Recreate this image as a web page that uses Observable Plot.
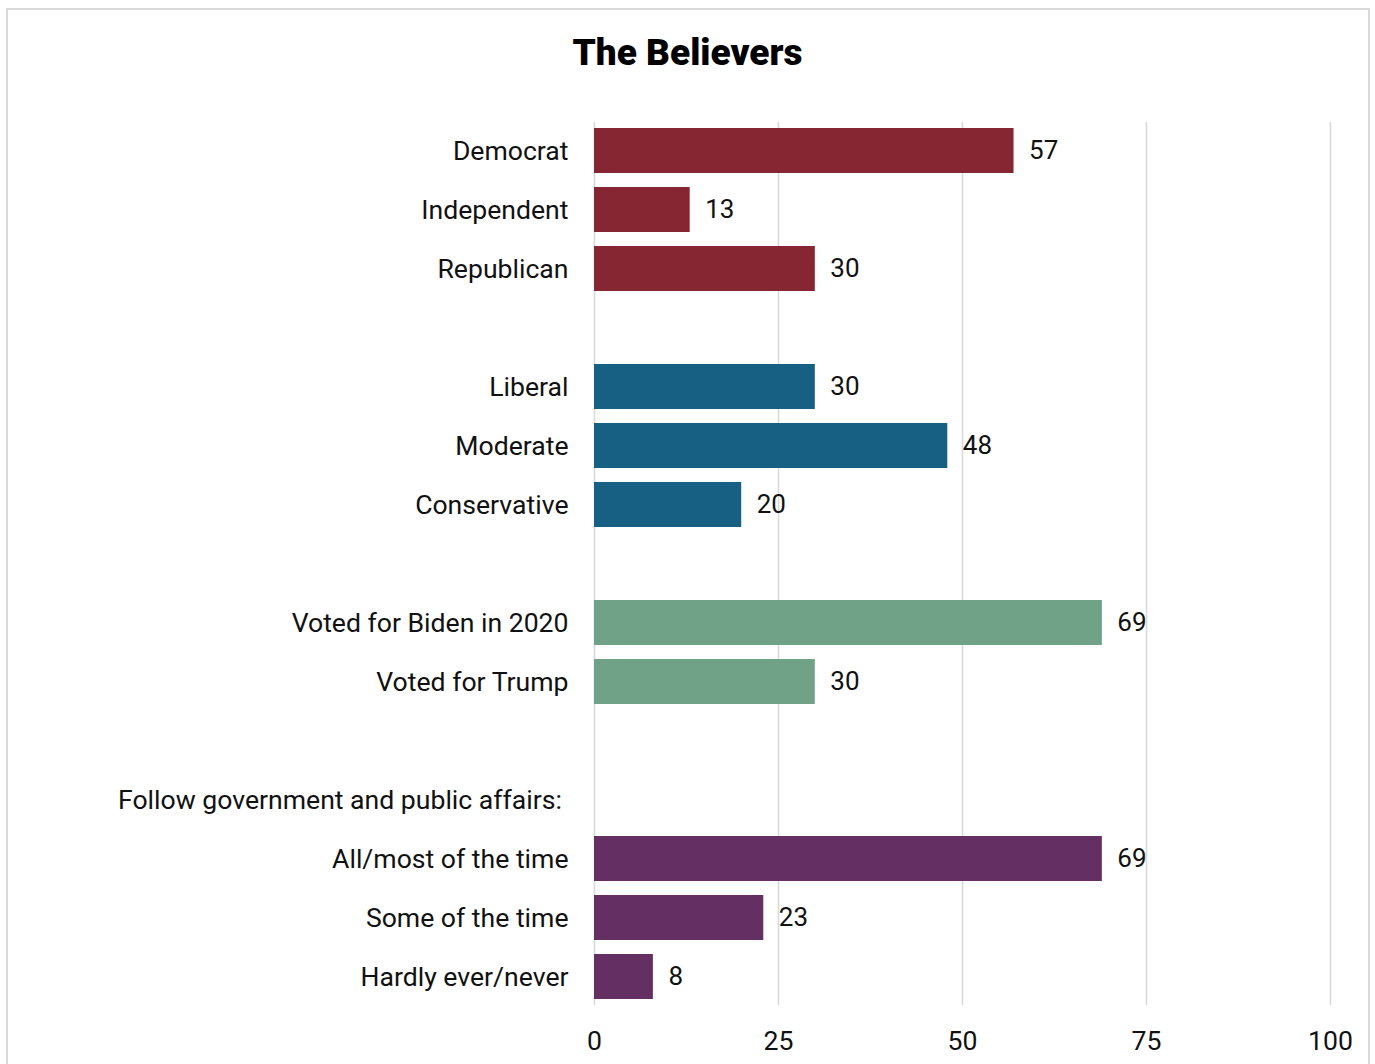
<!DOCTYPE html>
<html>
<head>
<meta charset="utf-8">
<script src="https://cdn.jsdelivr.net/npm/d3@7"></script>
<script src="https://cdn.jsdelivr.net/npm/@observablehq/plot@0.6"></script>
<style>
  body { margin: 0; background: #fff; font-family: Roboto, sans-serif; }
  #frame { position: absolute; left: 6px; top: 8px; width: 1364px; height: 1120px; border: 2px solid #d9d9d9; box-sizing: border-box; }
  #chart { position: absolute; left: 0; top: 0; width: 1375px; }
  .title { height: 100px; box-sizing: border-box; padding-top: 31px; line-height: 38px; text-align: center; font: 900 37px Roboto, sans-serif; color: #000; }
  svg { display: block; }
</style>
</head>
<body>
<div id="frame"></div>
<div id="chart">
  <div class="title">The Believers</div>
</div>
<script>
const categories = ["Democrat", "Independent", "Republican", "Liberal", "Moderate", "Conservative",
  "Voted for Biden in 2020", "Voted for Trump", "All/most of the time", "Some of the time", "Hardly ever/never"];
const values = [57, 13, 30, 30, 48, 20, 69, 30, 69, 23, 8];
const groups = ["Party", "Party", "Party", "Ideology", "Ideology", "Ideology", "Vote", "Vote", "Follow", "Follow", "Follow"];
const groupNames = ["Party", "Ideology", "Vote", "Follow"];
const groupColors = ["#862633", "#176083", "#6fa287", "#642f62"];
const heading = "Follow government and public affairs:\u00a0";
const rows = ["Democrat", "Independent", "Republican", " ", "Liberal", "Moderate", "Conservative", "  ",
  "Voted for Biden in 2020", "Voted for Trump", "   ", heading, "All/most of the time", "Some of the time", "Hardly ever/never"];
const xTicks = [0, 25, 50, 75, 100];

const data = categories.map((c, i) => ({category: c, value: values[i], group: groups[i]}));

const chart = Plot.plot({
  width: 1375,
  height: 964,
  marginLeft: 594,
  marginRight: 45,
  marginTop: 22,
  marginBottom: 59,
  style: {fontFamily: "Roboto, sans-serif", fontSize: "26px", color: "#111", background: "transparent"},
  x: {domain: [0, 100], axis: null},
  y: {domain: rows, range: [14, 913], padding: 0.237, axis: null},
  color: {domain: groupNames, range: groupColors},
  marks: [
    Plot.gridX(xTicks, {stroke: "#d9d9d9", strokeOpacity: 1, strokeWidth: 1.6}),
    Plot.barX(data, {x: "value", y: "category", fill: "group"}),
    Plot.text(data, {x: "value", y: "category", text: d => String(d.value), textAnchor: "start", dx: 15, fill: "#111", fontSize: 26}),
    Plot.axisY({tickSize: 0, tickPadding: 26, fontSize: 26.6, label: null, tickFormat: d => d}),
    Plot.axisX(xTicks, {tickSize: 0, tickPadding: 26, fontSize: 26.6, label: null})
  ]
});
document.getElementById("chart").appendChild(chart);
</script>
</body>
</html>
